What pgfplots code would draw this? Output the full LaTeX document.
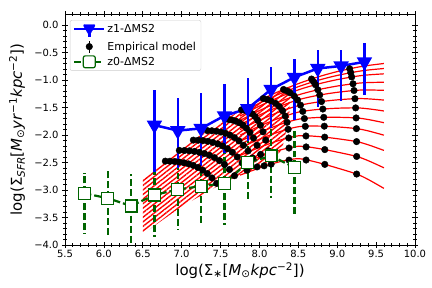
\documentclass[border=0pt]{standalone}
\usepackage{fontspec}
\setmainfont{DejaVu Sans}
\usepackage{pgfplots}
\pgfplotsset{compat=1.18}
\usetikzlibrary{patterns.meta}
\definecolor{dgreen}{RGB}{0,100,0}
\begin{document}
\begin{tikzpicture}
\useasboundingbox (-65bp,-43bp) rectangle (367bp,245bp);
\begin{axis}[
 at={(0,0)}, anchor=south west,
 width=350bp, height=231bp, scale only axis,
 xmin=5.5, xmax=10, ymin=-4, ymax=0.2,
 xtick={5.5,6,6.5,7,7.5,8,8.5,9,9.5,10},
 xticklabels={5.5,6.0,6.5,7.0,7.5,8.0,8.5,9.0,9.5,10.0},
 ytick={-4,-3.5,-3,-2.5,-2,-1.5,-1,-0.5,0},
 yticklabels={−4.0,−3.5,−3.0,−2.5,−2.0,−1.5,−1.0,−0.5,0.0},
 minor x tick num=4, minor y tick num=4,
 tick align=center,
 major tick length=6bp, minor tick length=3.5bp,
 tick style={black, line width=0.6pt},
 axis line style={line width=0.8pt},
 tick label style={font=\fontsize{10}{12}\selectfont},
 xticklabel style={yshift=1bp},
 xlabel={log(Σ\textsubscript{∗}[\textit{M}\textsubscript{⊙}\textit{kpc}\textsuperscript{−2}])},
 ylabel={log(Σ\textsubscript{\textit{SFR}}[\textit{M}\textsubscript{⊙}\textit{yr}\textsuperscript{−1}\textit{kpc}\textsuperscript{−2}])},
 label style={font=\fontsize{15}{18}\selectfont},
 xlabel style={at={(axis description cs:0.5,-0.11)}, anchor=center},
 ylabel style={at={(axis description cs:-0.137,0.5)}, anchor=center},
 legend style={at={(axis description cs:0.014,0.974)}, anchor=north west, draw=black!20, rounded corners=2pt, fill=white, font=\fontsize{11}{13}\selectfont, row sep=1.5pt, inner xsep=3pt, inner ysep=2pt},
 legend cell align=left,
]
% legend entries
\addlegendimage{legend image code/.code={
  \draw[blue, line width=2.5pt] (0pt,0pt) -- (30pt,0pt);
  \draw[blue, line width=2.5pt] (15pt,-8pt) -- (15pt,4pt);
  \fill[blue] (8.5pt,4.5pt) -- (21.5pt,4.5pt) -- (15pt,-6.5pt) -- cycle;
}}
\addlegendentry{z1-ΔMS2}
\addlegendimage{legend image code/.code={
  \draw[black, line width=1.5pt] (15pt,-6pt) -- (15pt,6pt);
  \fill[black] (15pt,0pt) circle (3.3pt);
}}
\addlegendentry{Empirical model}
\addlegendimage{legend image code/.code={
  \draw[dgreen, line width=2.2pt, dash pattern=on 7pt off 3pt] (0pt,0pt) -- (30pt,0pt);
  \draw[dgreen, line width=1.2pt, fill=white] (9pt,-6pt) rectangle (21pt,6pt);
}}
\addlegendentry{z0-ΔMS2}

% hatched band
\addplot[draw=none, pattern={Lines[angle=38,distance=3.6pt,line width=1.4pt]}, pattern color=red, forget plot] coordinates {
(6.5,-2.816) (6.75,-2.520) (7.0,-2.247) (7.25,-1.995) (7.5,-1.766) (7.75,-1.558) (8.0,-1.372) (8.2,-1.239) (8.4,-1.12) (8.38,-1.7) (8.3,-2.2) (8.2,-2.51) (8.0,-2.60) (7.75,-2.73) (7.5,-2.90) (7.25,-3.10) (7.0,-3.30) (6.75,-3.55) (6.5,-3.80)} -- cycle;

% red model curves
\pgfplotsset{redc/.style={red, line width=1.2pt, smooth, forget plot}}
\addplot[redc] coordinates {(7.75,-1.558) (8.0,-1.372) (8.25,-1.208) (8.5,-1.066) (8.75,-0.945) (9.0,-0.847) (9.25,-0.770) (9.4,-0.735) (9.6,-0.700)};
\addplot[redc] coordinates {(7.75,-1.605) (8.0,-1.421) (8.25,-1.259) (8.5,-1.121) (8.75,-1.007) (9.0,-0.917) (9.25,-0.848) (9.4,-0.818) (9.6,-0.791)};
\addplot[redc] coordinates {(7.75,-1.655) (8.0,-1.474) (8.25,-1.314) (8.5,-1.179) (8.75,-1.074) (9.0,-0.993) (9.25,-0.931) (9.4,-0.907) (9.6,-0.888)};
\addplot[redc] coordinates {(7.75,-1.734) (8.0,-1.556) (8.25,-1.400) (8.5,-1.271) (8.75,-1.178) (9.0,-1.110) (9.25,-1.061) (9.4,-1.046) (9.6,-1.041)};
\addplot[redc] coordinates {(7.75,-1.810) (8.0,-1.636) (8.25,-1.484) (8.5,-1.359) (8.75,-1.279) (9.0,-1.224) (9.25,-1.187) (9.4,-1.181) (9.6,-1.188)};
\addplot[redc] coordinates {(7.75,-1.901) (8.0,-1.732) (8.25,-1.584) (8.5,-1.466) (8.75,-1.401) (9.0,-1.361) (9.25,-1.338) (9.4,-1.343) (9.6,-1.365)};
\addplot[redc] coordinates {(7.75,-2.003) (8.0,-1.839) (8.25,-1.695) (8.5,-1.584) (8.75,-1.536) (9.0,-1.513) (9.25,-1.507) (9.4,-1.524) (9.6,-1.563)};
\addplot[redc] coordinates {(7.75,-2.114) (8.0,-1.954) (8.25,-1.816) (8.5,-1.713) (8.75,-1.682) (9.0,-1.678) (9.25,-1.690) (9.4,-1.719) (9.6,-1.776)};
\addplot[redc] coordinates {(7.75,-2.231) (8.0,-2.077) (8.25,-1.944) (8.5,-1.849) (8.75,-1.838) (9.0,-1.853) (9.25,-1.884) (9.4,-1.926) (9.6,-2.003)};
\addplot[redc] coordinates {(7.75,-2.374) (8.0,-2.227) (8.25,-2.100) (8.5,-2.015) (8.75,-2.027) (9.0,-2.067) (9.25,-2.120) (9.4,-2.179) (9.6,-2.280)};
\addplot[redc] coordinates {(7.75,-2.537) (8.0,-2.397) (8.25,-2.279) (8.5,-2.205) (8.75,-2.243) (9.0,-2.311) (9.25,-2.390) (9.4,-2.468) (9.6,-2.596)};
\addplot[redc] coordinates {(7.75,-2.730) (8.0,-2.600) (8.25,-2.490) (8.5,-2.430) (8.75,-2.500) (9.0,-2.600) (9.25,-2.710) (9.4,-2.810) (9.6,-2.970)};

% empirical model points
\addplot[only marks, mark=*, mark size=3.3pt, black, forget plot] coordinates {
(6.79,-2.475) (6.85,-2.477) (6.91,-2.482) (6.97,-2.491) (7.03,-2.505) (7.09,-2.526) (7.15,-2.553) (7.21,-2.590) (7.27,-2.639) (7.33,-2.701) (7.39,-2.781) (7.45,-2.880)
(6.97,-2.280) (7.035,-2.282) (7.099,-2.288) (7.164,-2.298) (7.228,-2.314) (7.293,-2.337) (7.357,-2.369) (7.422,-2.411) (7.486,-2.466) (7.551,-2.537) (7.615,-2.627) (7.68,-2.740)
(7.15,-2.093) (7.213,-2.095) (7.275,-2.102) (7.338,-2.115) (7.401,-2.134) (7.464,-2.161) (7.526,-2.199) (7.589,-2.249) (7.652,-2.314) (7.715,-2.399) (7.777,-2.506) (7.84,-2.640)
(7.33,-1.920) (7.388,-1.923) (7.446,-1.931) (7.505,-1.946) (7.563,-1.969) (7.621,-2.002) (7.679,-2.047) (7.737,-2.108) (7.795,-2.187) (7.854,-2.289) (7.912,-2.418) (7.97,-2.580)
(7.56,-1.714) (7.605,-1.718) (7.651,-1.728) (7.696,-1.748) (7.742,-1.777) (7.787,-1.819) (7.833,-1.877) (7.878,-1.955) (7.924,-2.056) (7.969,-2.187) (8.015,-2.353) (8.06,-2.560)
(7.77,-1.542) (7.805,-1.546) (7.839,-1.559) (7.874,-1.582) (7.908,-1.616) (7.943,-1.665) (7.977,-1.733) (8.012,-1.823) (8.046,-1.942) (8.081,-2.094) (8.115,-2.288) (8.15,-2.530)
(8.050,-1.337) (8.100,-1.354) (8.147,-1.378) (8.208,-1.425) (8.255,-1.481) (8.298,-1.559) (8.331,-1.657) (8.355,-1.770) (8.369,-1.896) (8.377,-2.054) (8.380,-2.237) (8.380,-2.456)
(8.310,-1.172) (8.354,-1.199) (8.395,-1.233) (8.449,-1.295) (8.490,-1.364) (8.528,-1.457) (8.557,-1.571) (8.578,-1.701) (8.590,-1.843) (8.598,-2.018) (8.600,-2.217) (8.600,-2.455)
(8.670,-0.982) (8.696,-1.030) (8.720,-1.086) (8.751,-1.178) (8.775,-1.273) (8.798,-1.392) (8.815,-1.528) (8.827,-1.679) (8.834,-1.840) (8.839,-2.039) (8.840,-2.265) (8.840,-2.534)
(9.160,-0.796) (9.174,-0.867) (9.186,-0.945) (9.203,-1.069) (9.216,-1.191) (9.228,-1.340) (9.237,-1.507) (9.243,-1.690) (9.247,-1.884) (9.249,-2.120) (9.250,-2.390) (9.250,-2.710)
};

% z0 series
\addplot[dgreen, line width=2.2pt, dash pattern=on 7pt off 3pt, mark=square*, mark size=6pt,
  mark options={solid, fill=white, draw=dgreen, line width=1.2pt}, forget plot,
  error bars/.cd, y dir=both, y explicit, error mark=none,
  error bar style={line width=2.5pt, dgreen, dash pattern=on 7pt off 3pt}]
 coordinates {
 (5.75,-3.06) += (0,0.37) -= (0,0.74)
 (6.05,-3.15) += (0,0.54) -= (0,0.69)
 (6.35,-3.29) += (0,0.58) -= (0,0.91)
 (6.65,-3.09) += (0,0.65) -= (0,0.76)
 (6.95,-2.99) += (0,0.65) -= (0,0.74)
 (7.25,-2.93) += (0,0.65) -= (0,0.71)
 (7.55,-2.88) += (0,0.65) -= (0,0.76)
 (7.85,-2.50) += (0,0.65) -= (0,0.69)
 (8.15,-2.38) += (0,0.65) -= (0,0.77)
 (8.45,-2.59) += (0,0.72) -= (0,0.86)
 };

% z1 series
\addplot[blue, line width=2.5pt, mark=triangle*, mark size=6.5pt,
  mark options={solid, rotate=180, fill=blue}, forget plot,
  error bars/.cd, y dir=both, y explicit, error mark=none,
  error bar style={line width=2.5pt, blue}]
 coordinates {
 (6.65,-1.82) += (0,0.64) -= (0,0.85)
 (6.95,-1.92) += (0,0.59) -= (0,0.68)
 (7.25,-1.88) += (0,0.65) -= (0,0.69)
 (7.55,-1.65) += (0,0.57) -= (0,0.68)
 (7.85,-1.52) += (0,0.55) -= (0,0.58)
 (8.15,-1.17) += (0,0.41) -= (0,0.71)
 (8.45,-0.95) += (0,0.33) -= (0,0.78)
 (8.75,-0.79) += (0,0.34) -= (0,0.70)
 (9.05,-0.745) += (0,0.295) -= (0,0.645)
 (9.35,-0.67) += (0,0.34) -= (0,0.60)
 };
\end{axis}
\end{tikzpicture}
\end{document}
